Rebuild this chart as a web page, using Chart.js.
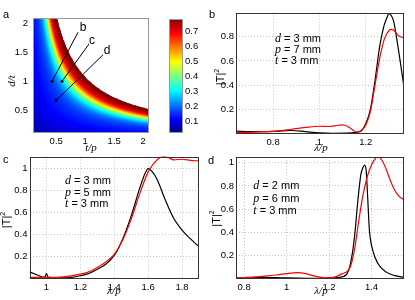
<!DOCTYPE html>
<html>
<head>
<meta charset="utf-8">
<script src="https://cdn.jsdelivr.net/npm/chart.js@4.4.1/dist/chart.umd.min.js"></script>
<style>
  html, body { margin: 0; padding: 0; background: #fff; }
  #page { position: relative; width: 415px; height: 300px; overflow: hidden; }
  #page canvas { position: absolute; left: 0; top: 0; pointer-events: none; }
</style>
</head>
<body>
<div id="page">
  <canvas id="chartA" width="415" height="300"></canvas>
  <canvas id="chartBar" width="415" height="300"></canvas>
  <canvas id="chartB" width="415" height="300"></canvas>
  <canvas id="chartC" width="415" height="300"></canvas>
  <canvas id="chartD" width="415" height="300"></canvas>
</div>
<script>
// ---- data ----
// panel a: map value read along d/p (bands follow d/t * t/p = d/p)
const dpLevels = [0, 0.05, 0.1, 0.2, 0.3, 0.4, 0.5, 0.55, 0.6, 0.65, 0.7, 0.75, 0.8, 0.85, 0.9, 0.95, 1.0, 1.06];
const dpValues = [0.05, 0.07, 0.09, 0.115, 0.135, 0.155, 0.19, 0.22, 0.26, 0.31, 0.38, 0.46, 0.55, 0.64, 0.7, 0.74, 0.765, 0.78];
const mapRange = [0.1, 2.1];
const mapTicks = [0.5, 1, 1.5, 2];
const cbarRange = [0.02, 0.78];
const cbarTicks = [0.1, 0.2, 0.3, 0.4, 0.5, 0.6, 0.7];

// sample parameters (mm) for panels b, c, d
const sampleNames = ['b', 'c', 'd'];
const paramD = [3, 3, 2];
const paramP = [7, 5, 6];
const paramT = [3, 3, 3];
// far end of the leader lines in panel a (t/p, d/t)
const leaderTP = [0.876, 1.066, 1.307];
const leaderDT = [1.85, 1.648, 1.46];

// panel b
const bBlackX = [0.64, 0.7, 0.76, 0.82, 0.88, 0.94, 1.0, 1.06, 1.12, 1.16, 1.18, 1.2, 1.22, 1.24, 1.26, 1.27, 1.28, 1.29, 1.3, 1.31, 1.32, 1.338, 1.35, 1.365];
const bBlackY = [0.02, 0.015, 0.015, 0.02, 0.025, 0.015, 0.005, 0.002, 0.003, 0.01, 0.02, 0.08, 0.2, 0.44, 0.72, 0.82, 0.9, 0.95, 0.99, 0.975, 0.93, 0.73, 0.58, 0.38];
const bRedX = [0.64, 0.7, 0.76, 0.82, 0.88, 0.94, 1.0, 1.04, 1.08, 1.1, 1.12, 1.14, 1.16, 1.18, 1.2, 1.22, 1.24, 1.26, 1.28, 1.3, 1.31, 1.32, 1.34, 1.365];
const bRedY = [0.01, 0.01, 0.015, 0.02, 0.035, 0.05, 0.06, 0.058, 0.068, 0.072, 0.06, 0.035, 0.012, 0.025, 0.07, 0.18, 0.4, 0.62, 0.78, 0.85, 0.86, 0.855, 0.81, 0.79];
const bXRange = [0.64, 1.365];
const bYRange = [0, 1];
const bXTicks = [0.8, 1, 1.2];
const bYTicks = [0.2, 0.4, 0.6, 0.8];

// panel c
const cBlackX = [0.9, 0.95, 0.98, 0.99, 1.0, 1.01, 1.05, 1.1, 1.15, 1.2, 1.25, 1.3, 1.35, 1.4, 1.45, 1.5, 1.55, 1.58, 1.6, 1.62, 1.65, 1.7, 1.75, 1.8, 1.85, 1.9];
const cBlackY = [0.06, 0.03, 0.012, 0.012, 0.045, 0.012, 0.005, 0.005, 0.01, 0.025, 0.045, 0.085, 0.13, 0.21, 0.36, 0.57, 0.82, 0.95, 1.0, 0.98, 0.91, 0.72, 0.55, 0.44, 0.36, 0.29];
const cRedX = [0.9, 1.0, 1.1, 1.2, 1.25, 1.3, 1.35, 1.4, 1.45, 1.5, 1.55, 1.6, 1.63, 1.66, 1.69, 1.72, 1.75, 1.8, 1.85, 1.9];
const cRedY = [0.01, 0.01, 0.015, 0.04, 0.06, 0.1, 0.15, 0.22, 0.35, 0.54, 0.77, 0.97, 1.04, 1.09, 1.11, 1.1, 1.08, 1.085, 1.075, 1.07];
const cXRange = [0.9, 1.9];
const cYRange = [0, 1.11];
const cXTicks = [1, 1.2, 1.4, 1.6, 1.8];
const cYTicks = [0.2, 0.4, 0.6, 0.8, 1];

// panel d
const dBlackX = [0.762, 0.8, 0.85, 0.9, 0.95, 1.0, 1.05, 1.1, 1.15, 1.2, 1.25, 1.28, 1.3, 1.32, 1.335, 1.35, 1.36, 1.368, 1.375, 1.382, 1.39, 1.405, 1.43, 1.47, 1.51, 1.553];
const dBlackY = [0.005, 0.008, 0.01, 0.01, 0.008, 0.005, 0.003, 0.002, 0.002, 0.003, 0.01, 0.03, 0.12, 0.36, 0.66, 0.9, 0.96, 0.98, 0.93, 0.7, 0.42, 0.25, 0.13, 0.055, 0.025, 0.01];
const dRedX = [0.762, 0.8, 0.85, 0.9, 0.95, 1.0, 1.05, 1.09, 1.13, 1.18, 1.22, 1.26, 1.3, 1.32, 1.34, 1.36, 1.38, 1.4, 1.42, 1.43, 1.45, 1.47, 1.49, 1.51, 1.53, 1.553];
const dRedY = [0.005, 0.008, 0.012, 0.02, 0.03, 0.042, 0.05, 0.042, 0.022, 0.006, 0.01, 0.04, 0.1, 0.25, 0.5, 0.72, 0.88, 0.98, 1.04, 1.05, 1.02, 0.94, 0.84, 0.76, 0.71, 0.68];
const dXRange = [0.762, 1.553];
const dYRange = [0, 1.05];
const dXTicks = [0.8, 1, 1.2, 1.4];
const dYTicks = [0.2, 0.4, 0.6, 0.8, 1];

// ---- look ----
const W = 415, H = 300;
const SANS = '"Liberation Sans", Arial, sans-serif';
const SERIF = '"Liberation Serif", "Times New Roman", serif';
const font = (size, fam, style) => (style ? style + ' ' : '') + size + 'px ' + fam;

Chart.defaults.font.family = SANS;
Chart.defaults.font.size = 9.5;
Chart.defaults.color = '#000';

function jet(fr) {
  const c = k => Math.round(255 * Math.min(1, Math.max(0, 1.5 - Math.abs(4 * fr - k))));
  return 'rgb(' + c(3) + ',' + c(2) + ',' + c(1) + ')';
}
const toFrac = v => (v - cbarRange[0]) / (cbarRange[1] - cbarRange[0]);

function lookup(xs, ys, x) {
  if (x <= xs[0]) return ys[0];
  for (let i = 1; i < xs.length; i++) {
    if (x <= xs[i]) {
      const t = (x - xs[i - 1]) / (xs[i] - xs[i - 1]);
      return ys[i - 1] + t * (ys[i] - ys[i - 1]);
    }
  }
  return ys[ys.length - 1];
}

const zip = (xs, ys) => xs.map((x, i) => ({ x: x, y: ys[i] }));

// draws the matlab box and the free texts (page coordinates)
const decor = {
  id: 'decor',
  afterDraw(chart, args, opts) {
    const c = chart.ctx;
    const a = chart.chartArea;
    c.save();
    if (opts.box) {
      c.strokeStyle = opts.box;
      c.lineWidth = 1;
      c.strokeRect(Math.round(a.left) + 0.5, Math.round(a.top) + 0.5,
        Math.round(a.right) - Math.round(a.left) - 1, Math.round(a.bottom) - Math.round(a.top) - 1);
    }
    (opts.texts || []).forEach(t => {
      c.save();
      c.translate(t.x, t.y);
      if (t.rotate) c.rotate(t.rotate);
      c.textBaseline = t.baseline || 'middle';
      c.textAlign = 'left';
      let w = 0;
      t.parts.forEach(p => { c.font = p.font; w += c.measureText(p.text).width; });
      let x = t.align === 'center' ? -w / 2 : 0;
      t.parts.forEach(p => {
        c.font = p.font;
        c.fillStyle = '#000';
        c.fillText(p.text, x, p.dy || 0);
        x += c.measureText(p.text).width;
      });
      c.restore();
    });
    c.restore();
  }
};
Chart.register(decor);

function pad(rect, wy, hx, wr) {
  return { left: rect[0] - wy, top: rect[1], right: W - rect[2] - (wr || 0), bottom: H - rect[3] - hx };
}

function axis(range, ticks, pos, showGrid, size, gap) {
  return {
    type: 'linear',
    position: pos,
    min: range[0],
    max: range[1],
    afterBuildTicks: s => { s.ticks = ticks.map(v => ({ value: v })); },
    afterFit: s => { if (pos === 'bottom') s.height = size; else s.width = size; },
    ticks: { callback: v => String(v), padding: gap, maxRotation: 0, autoSkip: false },
    grid: { display: showGrid, color: '#c4c4c4', drawTicks: false, lineWidth: 1 },
    border: { display: false, dash: [1, 2] }
  };
}

const base = {
  responsive: false,
  animation: false,
  events: [],
  devicePixelRatio: 1
};

const tBar = [
  { text: '|T|', font: font(11, SANS) },
  { text: '2', font: font(7, SANS), dy: -4 }
];
const lamP = [{ text: '\u03bb/p', font: font(11, SERIF, 'italic') }];

function paramTexts(k, x, y0, step) {
  const rows = [['d', paramD[k]], ['p', paramP[k]], ['t', paramT[k]]];
  return rows.map((r, i) => ({
    x: x, y: y0 + i * step, baseline: 'alphabetic',
    parts: [{ text: r[0], font: font(12, SERIF, 'italic') }, { text: ' = ' + r[1] + ' mm', font: font(11, SANS) }]
  }));
}

// ---- panel a : map ----
const rectA = [33, 18, 149, 133];
const gridStep = 0.01;
const nCells = Math.round((mapRange[1] - mapRange[0]) / gridStep);
const cells = [];
for (let i = 0; i < nCells; i++) {
  for (let j = 0; j < nCells; j++) {
    const tp = mapRange[0] + (i + 0.5) * gridStep;
    const dt = mapRange[0] + (j + 0.5) * gridStep;
    const dp = tp * dt;
    if (dp > dpLevels[dpLevels.length - 1]) continue;
    cells.push({ x: tp, y: dt, v: lookup(dpLevels, dpValues, dp) });
  }
}

const markTP = paramT.map((t, i) => t / paramP[i]);
const markDT = paramD.map((d, i) => d / paramT[i]);
const leaderSets = sampleNames.map((n, i) => ({
  type: 'line',
  data: [{ x: markTP[i], y: markDT[i] }, { x: leaderTP[i], y: leaderDT[i] }],
  showLine: true,
  borderColor: '#000',
  borderWidth: 1,
  pointRadius: [1.5, 0],
  pointBackgroundColor: '#000',
  pointBorderWidth: 0,
  order: 1
}));

new Chart(document.getElementById('chartA'), {
  type: 'scatter',
  data: {
    datasets: leaderSets.concat([{
      data: cells,
      pointStyle: 'rect',
      pointRadius: 1.05,
      pointBorderWidth: 0,
      pointBackgroundColor: cells.map(c => jet(toFrac(c.v))),
      order: 5
    }])
  },
  options: Object.assign({}, base, {
    layout: { padding: pad(rectA, 25, 16) },
    scales: {
      x: axis(mapRange, mapTicks, 'bottom', false, 16, 3),
      y: axis(mapRange, mapTicks, 'left', false, 25, 5)
    },
    plugins: {
      legend: { display: false }, tooltip: { enabled: false },
      decor: {
        box: '#9a9a9a',
        texts: [
          { x: 3, y: 17.5, baseline: 'alphabetic', parts: [{ text: 'a', font: font(11, SANS) }] },
          { x: 12.5, y: 81, rotate: -Math.PI / 2, align: 'center', parts: [{ text: 'd/t', font: font(11, SERIF, 'italic') }] },
          { x: 91, y: 148.5, align: 'center', parts: [{ text: 't/p', font: font(11, SERIF, 'italic') }] },
          { x: 83, y: 27.5, align: 'center', parts: [{ text: 'b', font: font(12, SANS) }] },
          { x: 92, y: 40.5, align: 'center', parts: [{ text: 'c', font: font(12, SANS) }] },
          { x: 107, y: 50.5, align: 'center', parts: [{ text: 'd', font: font(12, SANS) }] }
        ]
      }
    }
  })
});

// ---- colour bar ----
const rectBar = [169, 19, 183, 133];
new Chart(document.getElementById('chartBar'), {
  type: 'bar',
  data: {
    labels: [''],
    datasets: [{
      data: [[cbarRange[0], cbarRange[1]]],
      barPercentage: 1,
      categoryPercentage: 1,
      borderWidth: 0,
      inflateAmount: 0,
      backgroundColor: ctx => {
        const area = ctx.chart.chartArea;
        if (!area) return 'transparent';
        const g = ctx.chart.ctx.createLinearGradient(0, area.bottom, 0, area.top);
        for (let k = 0; k <= 16; k++) g.addColorStop(k / 16, jet(k / 16));
        return g;
      }
    }]
  },
  options: Object.assign({}, base, {
    layout: { padding: pad(rectBar, 0, 0, 22) },
    scales: {
      x: { display: false },
      y: axis(cbarRange, cbarTicks, 'right', false, 22, 2)
    },
    plugins: { legend: { display: false }, tooltip: { enabled: false }, decor: { box: '#9a9a9a' } }
  })
});

// ---- spectra b, c, d ----
function spectrum(id, rect, xr, yr, xt, yt, black, red, texts) {
  return new Chart(document.getElementById(id), {
    type: 'line',
    data: {
      datasets: [
        { data: red, borderColor: '#ff0000', order: 1 },
        { data: black, borderColor: '#000000', order: 2 }
      ]
    },
    options: Object.assign({}, base, {
      layout: { padding: pad(rect, 25, 16) },
      elements: {
        line: { borderWidth: 1.2, cubicInterpolationMode: 'monotone', fill: false },
        point: { radius: 0 }
      },
      scales: {
        x: axis(xr, xt, 'bottom', true, 16, 3),
        y: axis(yr, yt, 'left', true, 25, 2)
      },
      plugins: { legend: { display: false }, tooltip: { enabled: false }, decor: { box: '#333', texts: texts } }
    })
  });
}

spectrum('chartB', [236, 12.5, 404, 133.5], bXRange, bYRange, bXTicks, bYTicks,
  zip(bBlackX, bBlackY), zip(bRedX, bRedY),
  [
    { x: 209, y: 18.3, baseline: 'alphabetic', parts: [{ text: 'b', font: font(11, SANS) }] },
    { x: 221, y: 77, rotate: -Math.PI / 2, align: 'center', parts: tBar },
    { x: 321, y: 148.5, align: 'center', parts: lamP }
  ].concat(paramTexts(0, 275, 41.7, 11))
);

spectrum('chartC', [29.5, 156.5, 199, 278.5], cXRange, cYRange, cXTicks, cYTicks,
  zip(cBlackX, cBlackY), zip(cRedX, cRedY),
  [
    { x: 3, y: 162.5, baseline: 'alphabetic', parts: [{ text: 'c', font: font(11, SANS) }] },
    { x: 7, y: 220, rotate: -Math.PI / 2, align: 'center', parts: tBar },
    { x: 114, y: 291, align: 'center', parts: lamP }
  ].concat(paramTexts(1, 65, 184, 11.5))
);

spectrum('chartD', [236, 157, 404, 278.5], dXRange, dYRange, dXTicks, dYTicks,
  zip(dBlackX, dBlackY), zip(dRedX, dRedY),
  [
    { x: 208, y: 163.5, baseline: 'alphabetic', parts: [{ text: 'd', font: font(11, SANS) }] },
    { x: 216.5, y: 218.5, rotate: -Math.PI / 2, align: 'center', parts: tBar },
    { x: 321, y: 291, align: 'center', parts: lamP }
  ].concat(paramTexts(2, 253.3, 189, 12.5))
);
</script>
</body>
</html>
